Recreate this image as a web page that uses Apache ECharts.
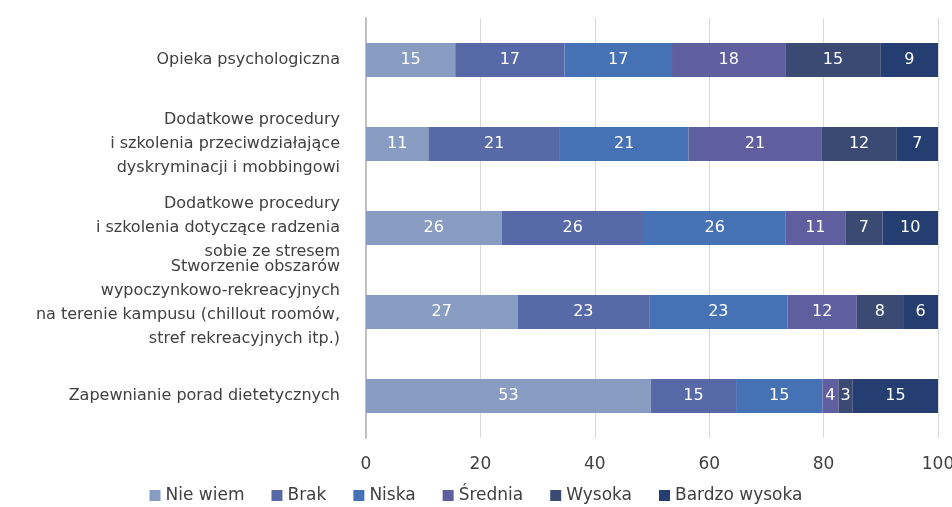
<!DOCTYPE html>
<html><head><meta charset="utf-8">
<script src="https://cdn.jsdelivr.net/npm/echarts@6/dist/echarts.min.js"></script>
<style>html,body{margin:0;padding:0;background:#fff}#c{width:952px;height:507px}</style>
</head><body><div id="c"></div>
<script>
const categories = [
  'Opieka psychologiczna',
  'Dodatkowe procedury\ni szkolenia przeciwdziałające\ndyskryminacji i mobbingowi',
  'Dodatkowe procedury\ni szkolenia dotyczące radzenia\nsobie ze stresem',
  'Stworzenie obszarów\nwypoczynkowo-rekreacyjnych\nna terenie kampusu (chillout roomów,\nstref rekreacyjnych itp.)',
  'Zapewnianie porad dietetycznych'
];
const seriesNames = ['Nie wiem', 'Brak', 'Niska', 'Średnia', 'Wysoka', 'Bardzo wysoka'];
// bar shares (percent of row)
const nieWiem     = [15.6, 10.9, 23.7, 26.5, 49.8];
const brak        = [19.1, 23.0, 24.9, 23.0, 14.9];
const niska       = [18.8, 22.5, 24.7, 24.2, 15.1];
const srednia     = [19.8, 23.2, 10.5, 12.1, 2.8];
const wysoka      = [16.7, 13.2, 6.5, 8.1, 2.5];
const bardzoWys   = [10.0, 7.2, 9.7, 6.1, 14.9];
// printed labels
const lblNieWiem   = [15, 11, 26, 27, 53];
const lblBrak      = [17, 21, 26, 23, 15];
const lblNiska     = [17, 21, 26, 23, 15];
const lblSrednia   = [18, 21, 11, 12, 4];
const lblWysoka    = [15, 12, 7, 8, 3];
const lblBardzoWys = [9, 7, 10, 6, 15];
const xTicks = [0, 20, 40, 60, 80, 100];

const values = [nieWiem, brak, niska, srednia, wysoka, bardzoWys];
const labels = [lblNieWiem, lblBrak, lblNiska, lblSrednia, lblWysoka, lblBardzoWys];
const colors = ['#899dc3', '#5869a7', '#4771b5', '#5f5e9e', '#3b4a73', '#243e72'];
const FONT = 'DejaVu Sans';

const chart = echarts.init(document.getElementById('c'), null, {renderer: 'canvas'});
chart.setOption({
  animation: false,
  textStyle: {fontFamily: FONT},
  grid: {left: 366, right: 14, top: 18, bottom: 69, containLabel: false, outerBoundsMode: 'none'},
  legend: {
    bottom: -2, left: 'center',
    itemWidth: 11, itemHeight: 11, itemGap: 27, icon: 'rect',
    textStyle: {fontFamily: FONT, fontSize: 17, color: '#404040'},
    data: seriesNames
  },
  xAxis: {
    type: 'value', min: 0, max: 100, interval: 20,
    axisLine: {show: false},
    axisTick: {show: false},
    splitLine: {lineStyle: {color: '#d9d9d9', width: 1}},
    axisLabel: {fontFamily: FONT, fontSize: 17, color: '#404040', margin: 18,
      formatter: v => xTicks.includes(v) ? String(v) : ''}
  },
  yAxis: {
    type: 'category', inverse: true, data: categories,
    axisLine: {show: true, lineStyle: {color: '#bfbfbf', width: 2}},
    axisTick: {show: false},
    axisLabel: {fontFamily: FONT, fontSize: 16, color: '#404040', margin: 26, lineHeight: 24, align: 'right',
      formatter: (v, i) => i === 3 ? v + '\n{s| }' : v,
      rich: {s: {lineHeight: 18, fontSize: 8}}
    }
  },
  series: seriesNames.map((name, i) => ({
    name, type: 'bar', stack: 'all', barWidth: 34,
    itemStyle: {color: colors[i]},
    label: {show: true, position: 'inside', color: '#fff', fontFamily: FONT, fontSize: 16,
      formatter: p => String(labels[i][p.dataIndex])},
    data: values[i]
  }))
});
</script></body></html>
